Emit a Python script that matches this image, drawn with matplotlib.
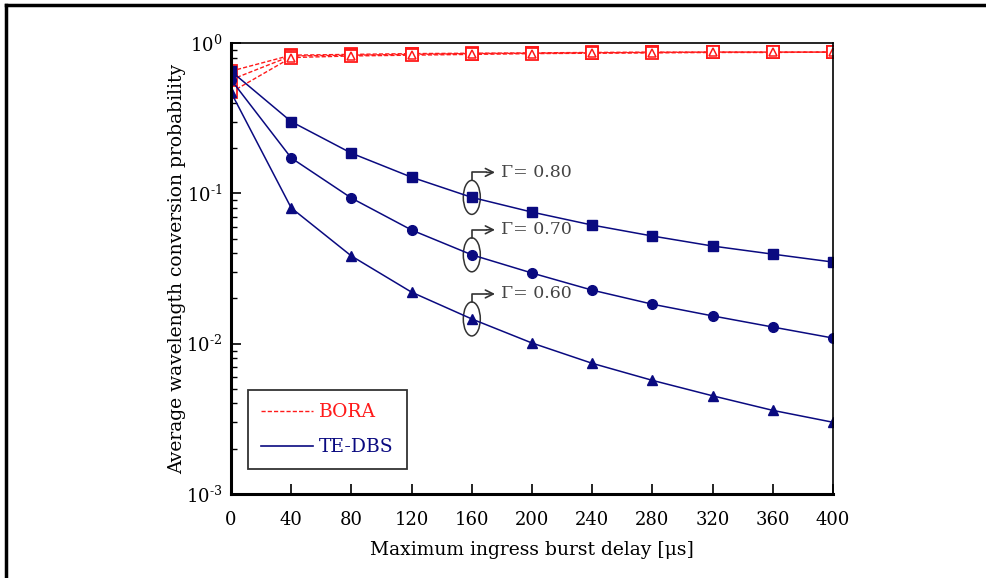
import numpy as np
import matplotlib
matplotlib.use("Agg")
import matplotlib.pyplot as plt
from matplotlib.patches import Ellipse
from matplotlib.lines import Line2D
from matplotlib.ticker import LogLocator, NullFormatter, FixedFormatter, FixedLocator

plt.rcParams['font.family'] = ['DejaVu Serif']
plt.rcParams['mathtext.fontset'] = 'dejavuserif'

# data
delay = [0, 40, 80, 120, 160, 200, 240, 280, 320, 360, 400]
gammas = ['0.80', '0.70', '0.60']
tedbs_080 = [0.65, 0.30, 0.185, 0.128, 0.094, 0.075, 0.0615, 0.052, 0.0446, 0.0394, 0.0349]
tedbs_070 = [0.57, 0.172, 0.093, 0.057, 0.039, 0.0295, 0.0227, 0.0183, 0.0153, 0.0129, 0.0109]
tedbs_060 = [0.47, 0.080, 0.0383, 0.022, 0.0146, 0.0101, 0.0074, 0.0057, 0.0045, 0.0036, 0.0030]
bora_080 = [0.65, 0.83, 0.84, 0.85, 0.855, 0.86, 0.865, 0.87, 0.87, 0.87, 0.87]
bora_070 = [0.57, 0.82, 0.83, 0.84, 0.85, 0.855, 0.86, 0.865, 0.87, 0.87, 0.87]
bora_060 = [0.47, 0.80, 0.82, 0.83, 0.84, 0.85, 0.855, 0.86, 0.865, 0.865, 0.87]
ytick_vals = [1e-3, 1e-2, 1e-1, 1]
ytick_text = ['$10^{\\text{-3}}$', '$10^{\\text{-2}}$', '$10^{\\text{-1}}$', '$10^{0}$']

navy = '#0a0a80'
red = '#ff1a1a'
grey = '#333333'

fig = plt.figure(figsize=(9.87, 5.78), dpi=100)
ax = fig.add_axes([231/987, 1 - 494/578, (833-231)/987, (494-43)/578])

tedbs = [tedbs_080, tedbs_070, tedbs_060]
bora = [bora_080, bora_070, bora_060]
marks = ['s', 'o', '^']
for ys in bora:
    ax.plot(delay, ys, color=red, ls='--', lw=1.0, dashes=(3, 1.5))
for ys in bora:
    ax.plot(delay, ys, ls='none', marker='s', ms=8.5, mfc='white', mec=red, mew=1.3)
    ax.plot(delay, ys, ls='none', marker='^', ms=5.5, mfc='white', mec=red, mew=1.1)
for ys, m in zip(tedbs, marks):
    ax.plot(delay, ys, color=navy, lw=1.1, marker=m, ms=7, mfc=navy, mec=navy)

ax.set_yscale('log')
ax.set_xlim(0, 400)
ax.set_ylim(1e-3, 1)
ax.set_xticks(delay)
ax.yaxis.set_major_locator(FixedLocator(ytick_vals))
ax.yaxis.set_major_formatter(FixedFormatter(ytick_text))
ax.yaxis.set_minor_locator(LogLocator(base=10, subs=np.arange(2, 10)))
ax.yaxis.set_minor_formatter(NullFormatter())
ax.tick_params(axis='both', direction='in', labelsize=13, length=7, width=1.2,
               top=False, right=False)
ax.tick_params(axis='y', which='minor', direction='in', length=4, width=1)
ax.tick_params(axis='x', pad=12)
ax.tick_params(axis='y', pad=6)
for s in ['left', 'bottom']:
    ax.spines[s].set_linewidth(2.2)
for s in ['top', 'right']:
    ax.spines[s].set_linewidth(1.2)

ax.set_xlabel('Maximum ingress burst delay [\u03bcs]', fontsize=13.5, labelpad=9)
ax.set_ylabel('Average wavelength conversion probability', fontsize=13.5, labelpad=0)

# annotations: ellipse round the marker at 160 and a bent arrow to the label
W = 602.0
H = 451.0
for g, ys in zip(gammas, tedbs):
    fx = delay[4] / 400.0
    fy = (np.log10(ys[4]) + 3) / 3.0
    ax.add_patch(Ellipse((fx, fy), 17 / W, 34 / H, transform=ax.transAxes,
                         fill=False, ec=grey, lw=1.1))
    top = fy + 17 / H
    kink = fy + 25 / H
    ax.plot([fx, fx, fx + 14 / W], [top, kink, kink], color=grey, lw=1.2,
            transform=ax.transAxes)
    ax.annotate('', xy=(fx + 26 / W, kink), xytext=(fx + 12 / W, kink),
                xycoords='axes fraction', textcoords='axes fraction',
                arrowprops=dict(arrowstyle='->', color=grey, lw=1.2,
                                mutation_scale=14))
    ax.text(fx + 29 / W, kink, '\u0393= ' + g, color='#444444', fontsize=12.5,
            va='center', transform=ax.transAxes)

# legend box
handles = [Line2D([], [], color=red, ls='--', lw=1.0, dashes=(3, 1.5)),
           Line2D([], [], color=navy, lw=1.2)]
leg = ax.legend(handles, ['BORA', 'TE-DBS'], loc='lower left',
                bbox_to_anchor=(0.028, 0.055), fontsize=13.5, frameon=True,
                fancybox=False, edgecolor='black', handlelength=2.8,
                labelspacing=0.9, borderpad=0.7, handletextpad=0.3,
                borderaxespad=0)
leg.get_frame().set_linewidth(1.3)
leg.get_texts()[0].set_color(red)
leg.get_texts()[1].set_color(navy)

# outer frame of the page
fig.add_artist(Line2D([6/987, 6/987], [0, 1 - 5/578], transform=fig.transFigure,
                      color='black', lw=2.5))
fig.add_artist(Line2D([6/987, 1], [1 - 5/578, 1 - 5/578], transform=fig.transFigure,
                      color='black', lw=2.5))

fig.savefig('out.png', dpi=100)
